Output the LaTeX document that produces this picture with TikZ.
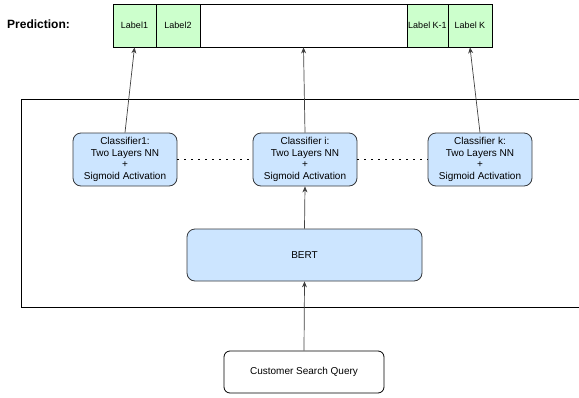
\documentclass[tikz,border=0pt]{standalone}
\usepackage{fontspec}
\setmainfont{Liberation Sans}
\usetikzlibrary{arrows.meta}
\definecolor{lgreen}{HTML}{CCFFCC}
\definecolor{lblue}{HTML}{CCE5FF}
\definecolor{edge}{HTML}{36393D}
\tikzset{
  cell/.style={draw=black, line width=0.8pt, fill=lgreen, minimum height=43pt, inner sep=0pt, font=\fontsize{9}{10}\selectfont},
  clf/.style={draw=edge, line width=0.8pt, fill=lblue, rounded corners=8pt, minimum width=104pt, minimum height=53pt, inner sep=0pt, align=center, font=\fontsize{10}{11.5}\selectfont},
  conn/.style={draw=black!75, line width=0.7pt, -{Stealth[length=6pt,width=5pt]}},
  dotline/.style={draw=black, line width=1.2pt, dash pattern=on 1.2pt off 5.8pt}
}
\begin{document}
\begin{tikzpicture}[x=1pt,y=-1pt]
\useasboundingbox (0,0) rectangle (579,397);
% outer frame (open on the right)
\draw[black, line width=0.8pt] (579,99) -- (21,99) -- (21,307) -- (579,307);
% prediction label
\node[font=\bfseries\fontsize{12}{14}\selectfont, anchor=west, inner sep=0pt] (pred) at (7,24) {Prediction:};
% label bar
\node[cell, minimum width=43pt] (l1) at (134.5,25.5) {Label1};
\node[cell, minimum width=44pt] (l2) at (178,25.5) {Label2};
\node[cell, fill=white, minimum width=207pt] (lmid) at (303.5,25.5) {};
\node[cell, minimum width=41pt] (lk1) at (427.5,25.5) {Label K-1};
\node[cell, minimum width=44pt] (lk) at (470,25.5) {Label K};
% classifiers
\node[clf] (c1) at (125,159.5) {Classifier1:\\Two Layers NN\\+\\Sigmoid Activation};
\node[clf] (ci) at (305,159.5) {Classifier i:\\Two Layers NN\\+\\Sigmoid Activation};
\node[clf] (ck) at (480,159.5) {Classifier k:\\Two Layers NN\\+\\Sigmoid Activation};
% BERT
\node[clf, minimum width=235pt, minimum height=52pt] (bert) at (304.5,255) {BERT};
% query
\node[draw=black, line width=0.8pt, fill=white, rounded corners=6pt, minimum width=160pt, minimum height=42pt, inner sep=0pt, font=\fontsize{10}{12}\selectfont] (q) at (304,372) {Customer Search Query};
% dotted links
\draw[dotline] (c1.east) -- (ci.west);
\draw[dotline] (ci.east) -- (ck.west);
% arrows
\draw[conn] (q.north) -- (bert.south);
\draw[conn] (bert.north) -- (ci.south);
\draw[conn] (c1.north) -- (l1.south);
\draw[conn] (ci.north) -- (lmid.south);
\draw[conn] (ck.north) -- (lk.south);
\end{tikzpicture}
\end{document}
